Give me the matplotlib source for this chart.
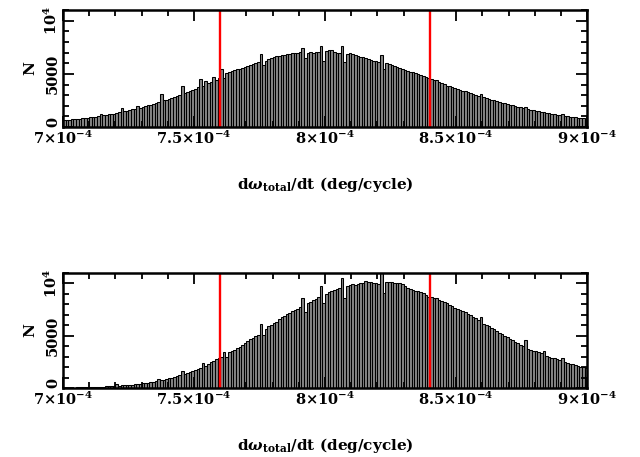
import matplotlib
matplotlib.use("Agg")
from matplotlib import pyplot as plt
from matplotlib.ticker import MultipleLocator, FixedLocator, FixedFormatter
import numpy as np

# histogram settings: 200 bins from 7e-4 to 9e-4
x_min = 7.0e-4
bin_width = 1.0e-6

counts_top = [
    620, 680, 700, 720, 740, 770, 800, 830, 860, 880,
    910, 950, 990, 1030, 1240, 1110, 1150, 1190, 1230, 1270,
    1320, 1370, 1800, 1480, 1530, 1590, 1650, 1710, 1960, 1830,
    1900, 1960, 2030, 2100, 2180, 2250, 2330, 3150, 2500, 2580,
    2660, 2750, 2840, 2930, 3020, 3850, 3200, 3300, 3400, 3500,
    3600, 3720, 4550, 3900, 4300, 4100, 4250, 4700, 4400, 4600,
    5500, 4600, 5050, 5200, 5280, 5350, 5420, 5500, 5580, 5660,
    5740, 5820, 5950, 6050, 6150, 6850, 5850, 6250, 6400, 6450,
    6550, 6650, 6700, 6750, 6800, 6850, 6880, 6920, 6960, 7000,
    7030, 7400, 6450, 6950, 7020, 7000, 7050, 7100, 7650, 6250,
    7150, 7200, 7220, 7100, 6950, 7000, 7650, 6150, 6900, 6950,
    6850, 6780, 6700, 6620, 6550, 6480, 6380, 6320, 6250, 6200,
    6150, 6800, 5450, 6000, 5950, 5850, 5750, 5650, 5550, 5450,
    5350, 5250, 5200, 5130, 5080, 5000, 4900, 4800, 4700, 4600,
    4520, 4450, 4380, 4250, 4150, 4050, 3900, 3820, 3750, 3680,
    3600, 3500, 3430, 3350, 3270, 3200, 3120, 3050, 2950, 3150,
    2800, 2720, 2650, 2580, 2500, 2430, 2360, 2300, 2230, 2160,
    2100, 2030, 1960, 1900, 1850, 1800, 1900, 1680, 1620, 1560,
    1520, 1470, 1430, 1390, 1350, 1310, 1270, 1230, 1150, 1120,
    1200, 1060, 1000, 960, 930, 900, 880, 860, 830, 800,
]

counts_bottom = [
    20, 30, 30, 40, 40, 50, 50, 60, 60, 70,
    80, 90, 100, 110, 130, 140, 150, 170, 180, 200,
    380, 220, 240, 260, 280, 300, 320, 350, 380, 410,
    440, 480, 520, 560, 610, 660, 860, 760, 810, 870,
    930, 1000, 1060, 1130, 1200, 1600, 1350, 1430, 1520, 1620,
    1720, 1820, 1920, 2350, 2150, 2250, 2480, 2600, 2750, 2850,
    2950, 3400, 2990, 3400, 3500, 3650, 3800, 3950, 4150, 4350,
    4500, 4650, 4800, 5000, 5100, 6150, 5100, 5650, 5900, 6050,
    6200, 6350, 6600, 6750, 6900, 7050, 7200, 7350, 7450, 7600,
    7750, 8650, 7300, 8100, 8250, 8400, 8550, 8700, 9800, 8100,
    8950, 9150, 9250, 9350, 9500, 9550, 10500, 8650, 9800, 9900,
    9950, 9900, 9950, 10000, 10050, 10250, 10150, 10100, 10000, 10050,
    9980, 11200, 9050, 10100, 10150, 10100, 10050, 10000, 10050, 9950,
    9800, 9600, 9500, 9400, 9300, 9250, 9150, 9050, 8900, 8750,
    8700, 8650, 8600, 8450, 8350, 8250, 8100, 7950, 7800, 7700,
    7550, 7450, 7350, 7250, 7100, 6950, 6800, 6650, 6500, 6800,
    6150, 6050, 5900, 5750, 5600, 5450, 5300, 5150, 5000, 4850,
    4700, 4550, 4400, 4300, 4150, 4050, 4600, 3700, 3650, 3550,
    3500, 3450, 3350, 3550, 3050, 2950, 2900, 2850, 2750, 2700,
    2900, 2450, 2350, 2300, 2250, 2200, 2100, 2050, 2000, 1950,
]

limits = [7.6e-4, 8.4e-4]

xtick_vals = [7.0e-4, 7.5e-4, 8.0e-4, 8.5e-4, 9.0e-4]
xtick_labels = [r"$7{\times}10^{-4}$", r"$7.5{\times}10^{-4}$", r"$8{\times}10^{-4}$",
                r"$8.5{\times}10^{-4}$", r"$9{\times}10^{-4}$"]
ytick_vals = [0, 5000, 10000]
ytick_labels = ["0", "5000", r"$10^4$"]

plt.rcParams["font.family"] = "DejaVu Serif"
plt.rcParams["font.weight"] = "bold"
plt.rcParams["axes.labelweight"] = "bold"
plt.rcParams["mathtext.fontset"] = "custom"
plt.rcParams["mathtext.rm"] = "DejaVu Serif:bold"
plt.rcParams["mathtext.it"] = "DejaVu Serif:italic:bold"
plt.rcParams["mathtext.bf"] = "DejaVu Serif:bold"


def draw_panel(ax, counts):
    n = len(counts)
    lefts = x_min + bin_width * np.arange(n)
    ax.bar(lefts, counts, width=bin_width, align="edge", color="#858585",
           edgecolor="black", linewidth=0.75)
    for v in limits:
        ax.axvline(v, color="red", lw=1.7)
    ax.set_xlim(7.0e-4, 9.0e-4)
    ax.set_ylim(0, 11000)
    ax.xaxis.set_major_locator(FixedLocator(xtick_vals))
    ax.xaxis.set_major_formatter(FixedFormatter(xtick_labels))
    ax.xaxis.set_minor_locator(MultipleLocator(1e-5))
    ax.yaxis.set_major_locator(FixedLocator(ytick_vals))
    ax.yaxis.set_major_formatter(FixedFormatter(ytick_labels))
    ax.yaxis.set_minor_locator(MultipleLocator(1000))
    ax.tick_params(which="both", direction="in", top=True, right=True,
                   labelsize=10.5, width=1.3)
    ax.tick_params(which="major", length=8, pad=2)
    ax.tick_params(which="minor", length=4)
    ylabs = ax.get_yticklabels()
    for lab in ylabs:
        lab.set_rotation(90)
        lab.set_va("center")
    # keep the "0" clear of the first x tick label
    ylabs[0].set_va("bottom")
    for sp in ax.spines.values():
        sp.set_linewidth(1.8)
    ax.set_ylabel("N", fontsize=11, labelpad=4)
    ax.set_xlabel(r"d$\omega_{\rm total}$/dt (deg/cycle)", fontsize=11, labelpad=20)


fig = plt.figure(figsize=(6.4, 4.57), dpi=100)
ax1 = fig.add_axes([0.0984, 0.722, 0.819, 0.256])
ax2 = fig.add_axes([0.0984, 0.151, 0.819, 0.2516])
draw_panel(ax1, counts_top)
draw_panel(ax2, counts_bottom)

fig.savefig("out.png", dpi=100)
